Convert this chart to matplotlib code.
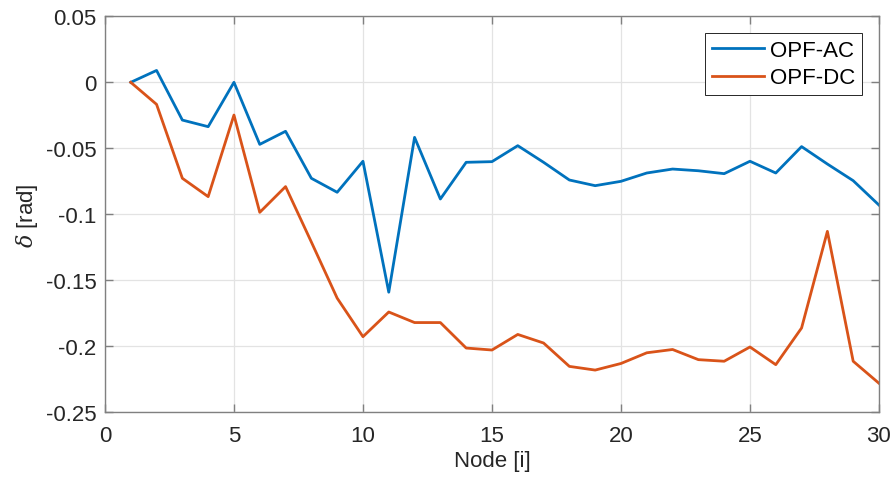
import matplotlib
matplotlib.use("Agg")
import matplotlib.pyplot as plt
import numpy as np

nodes = list(range(1, 31))
opf_ac = [0.0, 0.009, -0.0286, -0.0336, 0.0, -0.047, -0.0371, -0.0727, -0.0833, -0.0598,
          -0.159, -0.0417, -0.0884, -0.0606, -0.0601, -0.048, -0.0606, -0.074, -0.0783, -0.075,
          -0.0687, -0.0657, -0.067, -0.0692, -0.0598, -0.0687, -0.0487, -0.0619, -0.0745, -0.093]
opf_dc = [0.0, -0.0167, -0.0727, -0.0866, -0.0248, -0.0985, -0.079, -0.121, -0.1635, -0.1927,
          -0.174, -0.182, -0.182, -0.2013, -0.2028, -0.191, -0.1975, -0.2152, -0.218, -0.213,
          -0.2049, -0.2024, -0.2101, -0.2113, -0.2005, -0.2139, -0.1861, -0.1129, -0.2113, -0.228]
series_labels = ["OPF-AC", "OPF-DC"]
xticks = [0, 5, 10, 15, 20, 25, 30]
yticks = [-0.25, -0.2, -0.15, -0.1, -0.05, 0, 0.05]
ytick_labels = ["-0.25", "-0.2", "-0.15", "-0.1", "-0.05", "0", "0.05"]

plt.rcParams['font.family'] = ['Liberation Sans', 'DejaVu Sans']
plt.rcParams['mathtext.fontset'] = 'dejavuserif'

fig = plt.figure(figsize=(8.94, 4.81), dpi=100)
ax = fig.add_axes([0.1174, 0.1407, 0.8658, 0.8233])

ax.plot(nodes, opf_ac, color='#0072BD', lw=2.0, label=series_labels[0])
ax.plot(nodes, opf_dc, color='#D95319', lw=2.0, label=series_labels[1])

ax.set_xlim(0, 30)
ax.set_ylim(-0.25, 0.05)
ax.set_xticks(xticks)
ax.set_yticks(yticks)
ax.set_yticklabels(ytick_labels)
ax.grid(True, color='#E3E3E3', lw=0.9)
ax.set_axisbelow(True)

axcol = '#808080'
for s in ax.spines.values():
    s.set_color(axcol)
    s.set_linewidth(1.0)
ax.tick_params(direction='in', top=True, right=True, length=6, width=1.0,
               colors=axcol, labelcolor='#262626', labelsize=16)
ax.tick_params(axis='x', pad=9)
ax.tick_params(axis='y', pad=6)

ax.set_xlabel('Node [i]', fontsize=16, color='#262626', labelpad=3)
ax.set_ylabel(r'$\delta$ [rad]', fontsize=16, color='#262626', labelpad=4)

leg = ax.legend(loc='upper right', fontsize=16, frameon=True, fancybox=False,
                edgecolor='#262626', framealpha=1, borderpad=0.3, labelspacing=0.3,
                handlelength=2.35, handletextpad=0.3, borderaxespad=0.75)
leg.get_frame().set_linewidth(0.7)

fig.savefig('out.png', dpi=100)
